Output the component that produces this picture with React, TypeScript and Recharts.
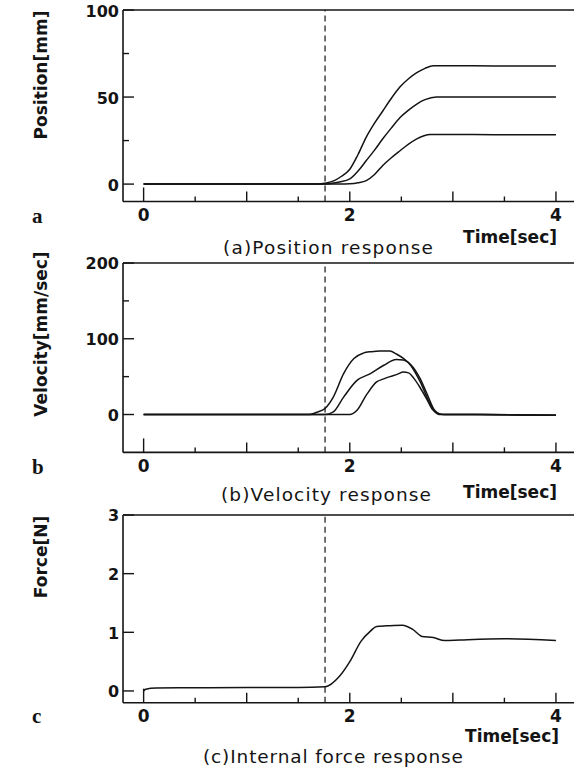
import React from 'react';
import { LineChart, Line, XAxis, YAxis, ReferenceLine } from 'recharts';

const W = 574;
const H = 778;
const PLOT_LEFT = 123;
const INK = '#141414';
const SANS = '"DejaVu Sans", sans-serif';
const SERIF = '"Liberation Serif", "Times New Roman", serif';

// time axis (shared by all three panels)
const timeDomain = [-0.2, 4.175];
const timeTicks = [0, 0.5, 1, 1.5, 2, 2.5, 3, 3.5, 4];
const timeLabels = [0, 2, 4];
const startTime = 1.76; // dashed marker

// (a) position response [mm]
const posHighT = [0, 1.7, 1.76, 1.85, 1.92, 2.0, 2.08, 2.16, 2.24, 2.32, 2.4, 2.49, 2.57, 2.65, 2.73, 2.81, 3.2, 3.6, 4.0];
const posHighV = [0, 0, 0.5, 2, 4.5, 8.5, 17, 27, 35, 42, 49, 56, 60.5, 64, 66.5, 68, 68, 67.8, 67.8];
const posMidT = [0, 1.76, 1.81, 1.9, 2.0, 2.08, 2.16, 2.24, 2.32, 2.4, 2.49, 2.57, 2.65, 2.73, 2.84, 3.2, 3.6, 4.0];
const posMidV = [0, 0, 0.3, 1.2, 3, 7.5, 13.5, 19.5, 26, 32, 38.4, 42.5, 46, 48.5, 50, 50, 50, 50];
const posLowT = [0, 1.9, 2.0, 2.08, 2.16, 2.24, 2.32, 2.4, 2.49, 2.57, 2.65, 2.72, 2.78, 3.2, 3.6, 4.0];
const posLowV = [0, 0, 0.2, 0.8, 2, 5.5, 10.7, 15, 19.3, 23, 26, 27.8, 28.5, 28.5, 28.3, 28.3];

// (b) velocity response [mm/sec]
const velHighT = [0, 1.61, 1.68, 1.76, 1.84, 1.94, 2.04, 2.13, 2.21, 2.29, 2.39, 2.45, 2.52, 2.59, 2.68, 2.78, 2.85, 2.88, 3.2, 3.6, 4.0];
const velHighV = [0, 0, 3, 8, 23, 54, 74, 81, 83, 84, 84, 80, 74, 65, 44, 14, 1, 0, 0, -0.5, -1];
const velMidT = [0, 1.76, 1.84, 1.94, 2.07, 2.2, 2.33, 2.45, 2.52, 2.59, 2.68, 2.75, 2.82, 2.88, 2.92, 3.2, 4.0];
const velMidV = [0, 0, 3.5, 23, 45, 54, 65, 72.6, 72, 66, 48, 27, 6, 0.5, 0, 0, -1];
const velLowT = [0, 2.0, 2.07, 2.16, 2.26, 2.33, 2.39, 2.46, 2.52, 2.57, 2.62, 2.68, 2.74, 2.8, 2.86, 2.9, 3.2, 4.0];
const velLowV = [0, 0, 5.6, 25.5, 43, 47, 50, 53, 56, 55, 48, 36, 22, 7, 1, 0, 0, -1];

// (c) internal force response [N]
const forceT = [0, 0.02, 0.12, 0.5, 1.0, 1.5, 1.76, 1.9, 2.0, 2.11, 2.2, 2.26, 2.36, 2.51, 2.61, 2.7, 2.81, 2.92, 3.07, 3.5, 4.0];
const forceV = [0, 0.03, 0.05, 0.055, 0.06, 0.06, 0.07, 0.25, 0.5, 0.85, 1.02, 1.1, 1.11, 1.12, 1.05, 0.93, 0.91, 0.86, 0.87, 0.89, 0.86];

const zip = (t: number[], v: number[]) => t.map((x, i) => ({ t: x, v: v[i] }));

function XTick(props: any) {
  const { x, y, payload } = props;
  const v = payload.value;
  const len = v === 0 ? 14 : Number.isInteger(v) ? 10 : 5;
  return (
    <g>
      <line x1={x} x2={x} y1={y} y2={y - len} stroke={INK} strokeWidth={1.4} />
      {timeLabels.includes(v) && (
        <text x={x} y={y + 19.5} textAnchor="middle" fontFamily={SANS} fontWeight="bold" fontSize={17} fill={INK}>
          {v}
        </text>
      )}
    </g>
  );
}

const makeYTick = (labels: number[]) => (props: any) => {
  const { x, y, payload } = props;
  const v = payload.value;
  const major = labels.includes(v);
  return (
    <g>
      <line x1={x} x2={x + (major ? 11 : 6)} y1={y} y2={y} stroke={INK} strokeWidth={1.4} />
      {major && (
        <text x={x - 4} y={y + 6.5} textAnchor="end" fontFamily={SANS} fontWeight="bold" fontSize={16} fill={INK}>
          {v}
        </text>
      )}
    </g>
  );
};

interface PanelProps {
  top: number;
  plotH: number;
  yDomain: number[];
  yTicks: number[];
  yLabels: number[];
  series: { t: number; v: number }[][];
}

function Panel({ top, plotH, yDomain, yTicks, yLabels, series }: PanelProps) {
  const m = 10;
  const axisH = 30;
  return (
    <div style={{ position: 'absolute', left: 0, top: top - m }}>
      <LineChart width={W} height={m + plotH + axisH} margin={{ top: m, right: 0, bottom: 0, left: 0 }}>
        <XAxis
          type="number"
          dataKey="t"
          domain={timeDomain}
          ticks={timeTicks}
          interval={0}
          height={axisH}
          tickSize={0}
          tickMargin={0}
          tickLine={false}
          axisLine={{ stroke: INK, strokeWidth: 1.6 }}
          tick={XTick}
          allowDataOverflow
        />
        <YAxis
          type="number"
          dataKey="v"
          domain={yDomain}
          ticks={yTicks}
          interval={0}
          width={PLOT_LEFT}
          tickSize={0}
          tickMargin={0}
          tickLine={false}
          axisLine={{ stroke: INK, strokeWidth: 1.6 }}
          tick={makeYTick(yLabels)}
          allowDataOverflow
        />
        <ReferenceLine y={yDomain[1]} stroke={INK} strokeWidth={1.6} />
        <ReferenceLine x={startTime} stroke={INK} strokeWidth={1.2} strokeDasharray="6 4" />
        {series.map((d, i) => (
          <Line
            key={i}
            data={d}
            dataKey="v"
            type="monotone"
            dot={false}
            stroke={INK}
            strokeWidth={1.5}
            isAnimationActive={false}
          />
        ))}
      </LineChart>
    </div>
  );
}

export default function App() {
  const bold = { fontFamily: SANS, fontWeight: 'bold' as const, fontSize: 17, fill: INK };
  const caption = { fontFamily: SANS, fontSize: 18.5, fill: INK };
  const letter = { fontFamily: SERIF, fontWeight: 'bold' as const, fontSize: 21, fill: INK };
  return (
    <div style={{ position: 'absolute', left: 0, top: 0, width: W, height: H, background: '#fff' }}>
      <Panel
        top={9.5}
        plotH={191.5}
        yDomain={[-10, 100]}
        yTicks={[0, 25, 50, 75, 100]}
        yLabels={[0, 50, 100]}
        series={[zip(posHighT, posHighV), zip(posMidT, posMidV), zip(posLowT, posLowV)]}
      />
      <Panel
        top={263.3}
        plotH={189.4}
        yDomain={[-50, 200]}
        yTicks={[0, 50, 100, 150, 200]}
        yLabels={[0, 100, 200]}
        series={[zip(velHighT, velHighV), zip(velMidT, velMidV), zip(velLowT, velLowV)]}
      />
      <Panel
        top={515}
        plotH={187.7}
        yDomain={[-0.2, 3]}
        yTicks={[0, 1, 2, 3]}
        yLabels={[0, 1, 2, 3]}
        series={[zip(forceT, forceV)]}
      />
      <svg width={W} height={H} style={{ position: 'absolute', left: 0, top: 0, pointerEvents: 'none' }}>
        <text transform="translate(47,75) rotate(-90)" textAnchor="middle" {...bold}>Position[mm]</text>
        <text transform="translate(47,334) rotate(-90)" textAnchor="middle" {...bold}>Velocity[mm/sec]</text>
        <text transform="translate(47,557) rotate(-90)" textAnchor="middle" {...bold}>Force[N]</text>

        <text x={32} y={223} {...letter}>a</text>
        <text x={32} y={474} {...letter}>b</text>
        <text x={32} y={723} {...letter}>c</text>

        <text x={557} y={242.5} textAnchor="end" {...bold}>Time[sec]</text>
        <text x={557} y={498} textAnchor="end" {...bold}>Time[sec]</text>
        <text x={559} y={742} textAnchor="end" {...bold}>Time[sec]</text>

        <text x={328} y={253.5} textAnchor="middle" textLength={210} lengthAdjust="spacing" {...caption}>(a)Position response</text>
        <text x={326} y={501} textAnchor="middle" textLength={210} lengthAdjust="spacing" {...caption}>(b)Velocity response</text>
        <text x={333} y={763} textAnchor="middle" textLength={260} lengthAdjust="spacing" {...caption}>(c)Internal force response</text>
      </svg>
    </div>
  );
}
